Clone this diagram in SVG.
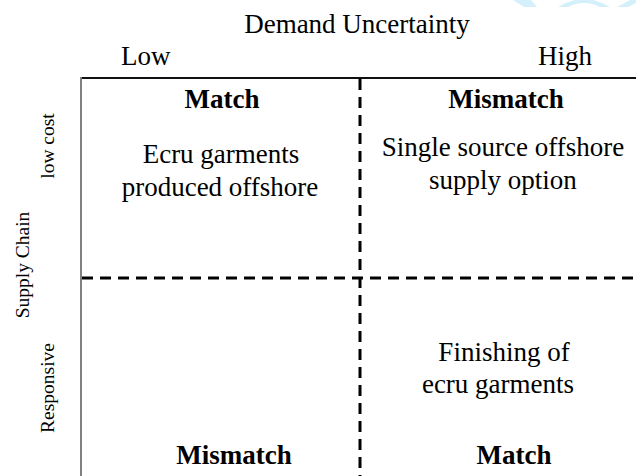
<svg xmlns="http://www.w3.org/2000/svg" width="636" height="476" viewBox="0 0 636 476">
<style>
text{font-family:"Liberation Serif","Times New Roman",serif;font-size:27px;fill:#000}
.b{font-weight:bold}
.m{text-anchor:middle}
.s{font-size:19.5px}
.d{stroke:#000;stroke-width:3;stroke-dasharray:11 7;fill:none}
.wm{fill:#d4f0fb}
</style>
<rect width="636" height="476" fill="#fff"/>
<g id="watermark">
<polygon class="wm" points="513,0 531,0 537,7 524,7"/>
<path class="wm" d="M558,7 Q584,-9 610,7 L600,7 Q584,-1 568,7 Z"/>
<polygon class="wm" points="617,7 630,0 636,0 636,3 628,7"/>
</g>
<g id="axes">
<text class="m" x="357" y="33">Demand Uncertainty</text>
<text x="121" y="65">Low</text>
<text x="538" y="65">High</text>
<text class="m s" transform="translate(29,265) rotate(-90)">Supply Chain</text>
<text class="m s" transform="translate(54,146) rotate(-90)">low cost</text>
<text class="m s" transform="translate(54,388) rotate(-90)">Responsive</text>
</g>
<g id="frame">
<line x1="80" y1="78" x2="636" y2="78" stroke="#111" stroke-width="2"/>
<line x1="81" y1="77" x2="81" y2="476" stroke="#808080" stroke-width="2"/>
</g>
<g id="connectors">
<line class="d" x1="360" y1="79" x2="360" y2="476"/>
<line class="d" x1="82" y1="278" x2="636" y2="278"/>
</g>
<g id="q1">
<text class="b m" x="222" y="108">Match</text>
<text class="m" x="221" y="163">Ecru garments</text>
<text class="m" x="220" y="196">produced offshore</text>
</g>
<g id="q2">
<text class="b m" x="506" y="108">Mismatch</text>
<text class="m" x="503" y="156">Single source offshore</text>
<text class="m" x="503" y="189">supply option</text>
</g>
<g id="q3">
<text class="b m" x="234" y="464">Mismatch</text>
</g>
<g id="q4">
<text class="m" x="504" y="361">Finishing of</text>
<text class="m" x="498" y="393">ecru garments</text>
<text class="b m" x="514" y="464">Match</text>
</g>
</svg>
